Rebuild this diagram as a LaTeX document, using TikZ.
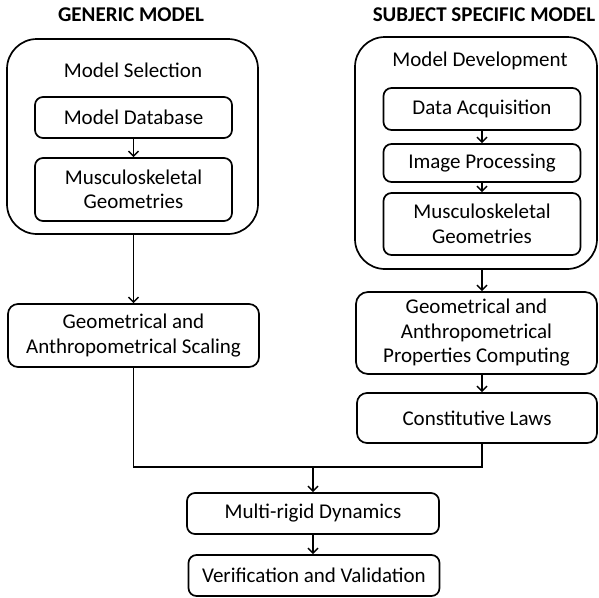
\documentclass[tikz,border=0pt]{standalone}
\usepackage{fontspec}
\setmainfont{Carlito}
\usetikzlibrary{arrows.meta,calc}
\begin{document}
\begin{tikzpicture}[x=1pt,y=-1pt,
  box/.style={draw,line width=1.7pt,rounded corners=8pt,inner sep=0pt,align=center,
    font=\fontsize{21}{24.5}\selectfont},
  outer/.style={draw,line width=1.7pt,rounded corners=30pt,inner sep=0pt},
  lbl/.style={inner sep=0pt,font=\fontsize{21}{24}\selectfont},
  ttl/.style={inner sep=0pt,font=\fontsize{21}{24}\selectfont\bfseries},
  arr/.style={line width=1.7pt,-{Straight Barb[length=5pt,width=10pt,line width=1.5pt]}},
  ln/.style={line width=1.7pt}]
\useasboundingbox (0,0) rectangle (599,597);
% titles
\node[ttl] (t1) at (131,15) {GENERIC MODEL};
\node[ttl] (t2) at (484,15) {SUBJECT SPECIFIC MODEL};
% left column
\node[outer,minimum width=251pt,minimum height=195pt] (lo) at (132.5,136.5) {};
\node[lbl] (sel) at (133,70) {Model Selection};
\node[box,minimum width=197pt,minimum height=41pt] (mdb) at (133.5,117.5) {Model Database};
\node[box,minimum width=197pt,minimum height=63pt] (lmg) at (133.5,189.5) {Musculoskeletal\\Geometries};
\node[box,rounded corners=10pt,minimum width=251pt,minimum height=63pt] (scal) at (133.5,335.5) {Geometrical and\\Anthropometrical Scaling};
% right column
\node[outer,minimum width=242pt,minimum height=232pt] (ro) at (476,153) {};
\node[lbl] (dev) at (480,61) {Model Development};
\node[box,minimum width=197pt,minimum height=42pt] (daq) at (482,109) {Data Acquisition};
\node[box,minimum width=197pt,minimum height=38pt] (imp) at (482,163) {Image Processing};
\node[box,minimum width=197pt,minimum height=62pt] (rmg) at (482,224) {Musculoskeletal\\Geometries};
\node[box,rounded corners=12pt,minimum width=241pt,minimum height=82pt] (geo) at (476.5,333) {Geometrical and\\Anthropometrical\\Properties Computing};
\node[box,rounded corners=10pt,minimum width=240pt,minimum height=50pt] (con) at (477,418) {Constitutive Laws};
% bottom
\node[box,minimum width=252pt,minimum height=41pt] (mrd) at (313,513.5) {Multi-rigid Dynamics};
\node[box,minimum width=251pt,minimum height=41pt] (vv) at (314,575.5) {Verification and Validation};
\coordinate (merge) at (313,467);
% connectors
\draw[arr] (mdb.south) -- (lmg.north);
\draw[arr] (lo.south -| mdb.south) -- (scal.north -| mdb.south);
\draw[arr] (daq.south) -- (imp.north);
\draw[arr] (imp.south) -- (rmg.north);
\draw[arr] (ro.south -| rmg.south) -- (geo.north -| rmg.south);
\draw[arr] (geo.south -| rmg.south) -- (con.north -| rmg.south);
\draw[ln] (scal.south -| mdb.south) |- (merge);
\draw[ln] (con.south -| rmg.south) |- (merge);
\draw[arr] (merge) -- (mrd.north);
\draw[arr] (mrd.south -| merge) -- (vv.north -| merge);
\end{tikzpicture}
\end{document}
